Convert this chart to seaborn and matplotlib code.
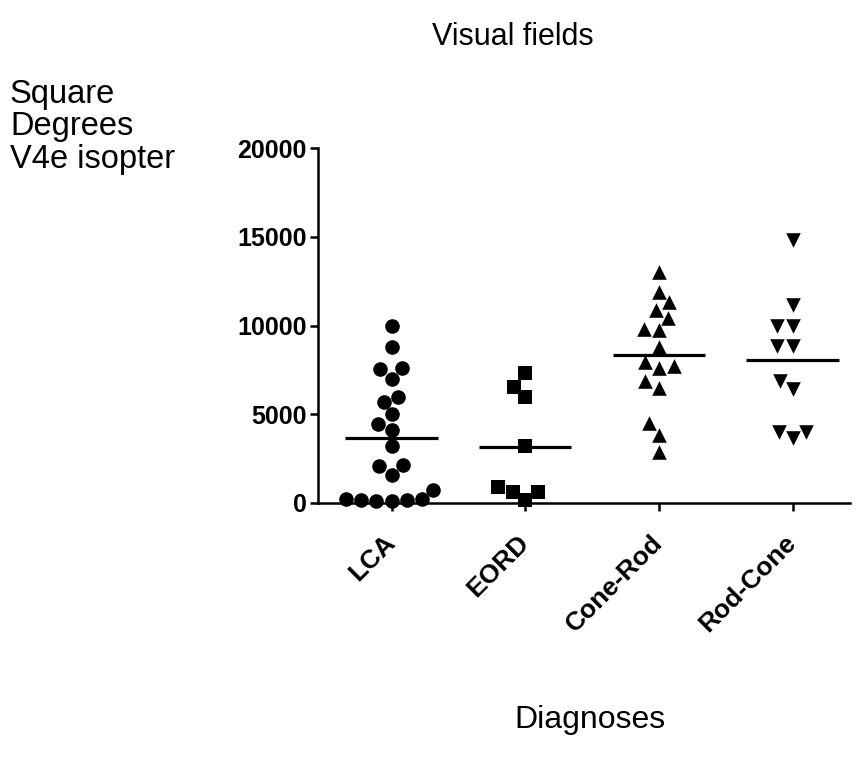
import numpy as np
import pandas as pd
import seaborn as sns
import matplotlib.pyplot as plt

# ---- data ----
categories = ["LCA", "EORD", "Cone-Rod", "Rod-Cone"]
lca = [10000, 8800, 7550, 7600, 7000, 5700, 5950, 5000, 4450, 4100, 3200,
       2100, 2150, 1600, 750, 250, 200, 180, 150, 120, 100]
eord = [7300, 6550, 6000, 3200, 640, 920, 640, 170]
cone_rod = [13000, 11900, 11300, 10900, 10400, 9750, 9800, 8800, 7950, 7600,
            7700, 6500, 6900, 4500, 3850, 2850]
rod_cone = [14800, 11150, 10000, 10000, 8850, 8850, 6850, 6400, 4000, 3650, 4000]
y_ticks = [0, 5000, 10000, 15000, 20000]
markers = ["o", "s", "^", "v"]

groups = [lca, eord, cone_rod, rod_cone]
df = pd.DataFrame({
    "Diagnosis": np.concatenate([[c] * len(g) for c, g in zip(categories, groups)]),
    "Value": np.concatenate(groups).astype(float),
})

sns.set_theme(style="ticks")
plt.rcParams["font.family"] = ["Liberation Sans", "DejaVu Sans"]
plt.rcParams["text.color"] = "black"
plt.rcParams["xtick.color"] = "black"
plt.rcParams["ytick.color"] = "black"
plt.rcParams["axes.labelcolor"] = "black"

fig = plt.figure(figsize=(8.57, 7.57), dpi=100)
W, H = 857, 757
ax = fig.add_axes([318 / W, 1 - 503 / H, (850 - 318) / W, (503 - 148) / H])

for cat, m in zip(categories, markers):
    sub = df[df["Diagnosis"] == cat]
    sns.swarmplot(data=sub, x="Diagnosis", y="Value", order=categories,
                  marker=m, size=10.5, color="black", linewidth=0, ax=ax,
                  warn_thresh=1.0)

for coll in ax.collections:
    coll.set_clip_on(False)

means = df.groupby("Diagnosis", sort=False)["Value"].mean().reindex(categories)
for i, cat in enumerate(categories):
    ax.hlines(means[cat], i - 0.345, i + 0.345, colors="black", linewidth=2.3, zorder=3)

ax.set_ylim(0, 20000)
ax.set_xlim(-0.55, 3.43)
ax.set_yticks(y_ticks)
ax.set_yticklabels([str(v) for v in y_ticks], fontsize=18, fontweight="bold")
ax.set_xticks(range(len(categories)))
ax.set_xticklabels(categories, fontsize=19, fontweight="bold", rotation=45,
                   ha="right", va="center", rotation_mode="anchor")
ax.set_xlabel("")
ax.set_ylabel("")
for s in ["top", "right"]:
    ax.spines[s].set_visible(False)
for s in ["left", "bottom"]:
    ax.spines[s].set_linewidth(1.8)
    ax.spines[s].set_color("black")
ax.tick_params(axis="both", width=1.8, length=6, color="black", direction="out")
ax.tick_params(axis="x", pad=20)
ax.tick_params(axis="y", pad=2)

fig.text(513 / W, 1 - 37 / H, "Visual fields", ha="center", va="center", fontsize=22)
fig.text(10 / W, 1 - 79 / H, "Square\nDegrees\nV4e isopter", ha="left", va="top",
         fontsize=23.5, linespacing=1.06)
fig.text(590 / W, 1 - 720 / H, "Diagnoses", ha="center", va="center", fontsize=23)

fig.savefig("out.png", dpi=100)
